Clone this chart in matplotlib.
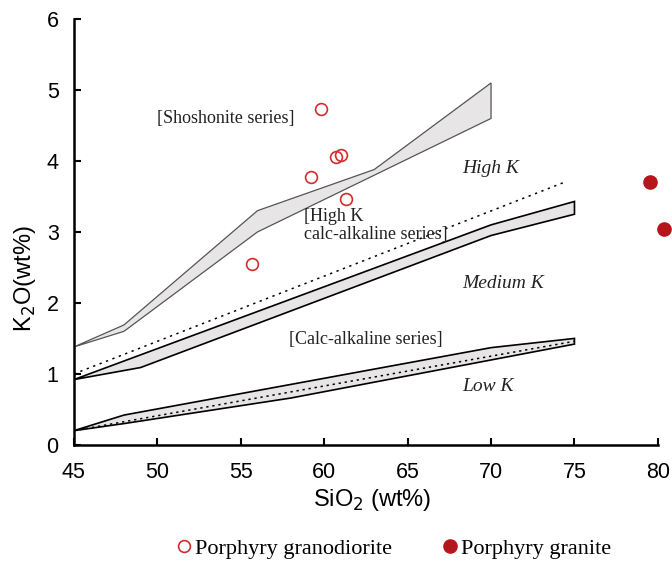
import matplotlib
matplotlib.use("Agg")
import matplotlib.pyplot as plt
from matplotlib.lines import Line2D

# sample data (SiO2, K2O in wt%)
gd_sio2 = [55.7, 59.2, 59.8, 60.7, 61.0, 61.3]
gd_k2o = [2.55, 3.77, 4.73, 4.06, 4.08, 3.47]
gr_sio2 = [79.55, 80.37]
gr_k2o = [3.71, 3.04]

# series boundary bands (upper edge / lower edge)
sho_up_x = [45, 48, 56, 63, 70]
sho_up_y = [1.38, 1.69, 3.30, 3.88, 5.10]
sho_lo_x = [45, 48, 56, 70]
sho_lo_y = [1.38, 1.60, 3.00, 4.60]

hk_up_x = [45, 70, 75]
hk_up_y = [0.92, 3.10, 3.43]
hk_lo_x = [45, 49, 70, 75]
hk_lo_y = [0.92, 1.09, 2.95, 3.25]
hk_dot_x = [45, 74.5]
hk_dot_y = [1.0, 3.71]

lk_up_x = [45, 48, 70, 75]
lk_up_y = [0.20, 0.42, 1.37, 1.50]
lk_lo_x = [45, 48, 58, 75]
lk_lo_y = [0.20, 0.30, 0.66, 1.42]
lk_dot_x = [45, 75]
lk_dot_y = [0.20, 1.46]

serif = "Liberation Serif"
sans = "Liberation Sans"
band_col = "#e7e5e5"

fig = plt.figure(figsize=(6.72, 5.61), dpi=100)
ax = fig.add_axes([0.110, 0.207, 0.869, 0.759])


def band(ux, uy, lx, ly, ec, lw):
    xs = list(ux) + list(lx[::-1])
    ys = list(uy) + list(ly[::-1])
    ax.fill(xs, ys, facecolor=band_col, edgecolor=ec, lw=lw, zorder=1)


band(sho_up_x, sho_up_y, sho_lo_x, sho_lo_y, "#555555", 0.9)
band(hk_up_x, hk_up_y, hk_lo_x, hk_lo_y, "black", 1.2)
band(lk_up_x, lk_up_y, lk_lo_x, lk_lo_y, "black", 1.2)
ax.plot(hk_dot_x, hk_dot_y, color="black", lw=1.1, ls=(0, (1.5, 3)), zorder=2)
ax.plot(lk_dot_x, lk_dot_y, color="black", lw=1.1, ls=(0, (1.5, 2.5)), zorder=2)

ax.plot(gd_sio2, gd_k2o, "o", ms=8.5, mfc="none", mec="#d42c2c", mew=1.2,
        zorder=4, clip_on=False)
ax.plot(gr_sio2, gr_k2o, "o", ms=9.5, mfc="#b5151b", mec="#b5151b",
        zorder=4, clip_on=False)

tkw = dict(fontfamily=serif, fontsize=13, color="#222222")
ax.text(50.0, 4.6, "[Shoshonite series]", va="center", **tkw)
ax.text(58.8, 3.215, "[High K", va="center", **tkw)
ax.text(58.8, 2.97, "calc-alkaline series]", va="center", **tkw)
ax.text(57.9, 1.48, "[Calc-alkaline series]", va="center", **tkw)
ikw = dict(fontfamily=serif, fontsize=14, style="italic", color="#222222")
ax.text(68.3, 3.9, "High K", va="center", **ikw)
ax.text(68.3, 2.28, "Medium K", va="center", **ikw)
ax.text(68.3, 0.82, "Low K", va="center", **ikw)

ax.set_xlim(45, 80)
ax.set_ylim(0, 6)
ax.set_xticks(range(45, 81, 5))
ax.set_yticks(range(0, 7))
for s in ["top", "right"]:
    ax.spines[s].set_visible(False)
for s in ["left", "bottom"]:
    ax.spines[s].set_linewidth(1.8)
ax.tick_params(direction="in", length=5, width=1.5, labelsize=15.5)
ax.tick_params(axis="x", pad=12)
ax.tick_params(axis="y", pad=11)
for lab in ax.get_xticklabels() + ax.get_yticklabels():
    lab.set_fontfamily(sans)

ax.set_xlabel("SiO$_2$ (wt%)", fontfamily=sans, fontsize=17)
ax.set_ylabel("K$_2$O(wt%)", fontfamily=sans, fontsize=17)
ax.xaxis.set_label_coords(0.51, -0.10)
ax.yaxis.set_label_coords(-0.061, 0.39)

handles = [
    Line2D([], [], ls="none", marker="o", ms=8.5, mfc="none", mec="#d42c2c", mew=1.2),
    Line2D([], [], ls="none", marker="o", ms=9.5, mfc="#b5151b", mec="#b5151b"),
]
fig.legend(handles, ["Porphyry granodiorite", "Porphyry granite"],
           loc="center", bbox_to_anchor=(0.585, 0.022), ncol=2, frameon=False,
           prop={"family": serif, "size": 16}, handletextpad=0.1,
           columnspacing=2.2, handlelength=0.8, borderpad=0.1)

fig.savefig("out.png", dpi=100)
